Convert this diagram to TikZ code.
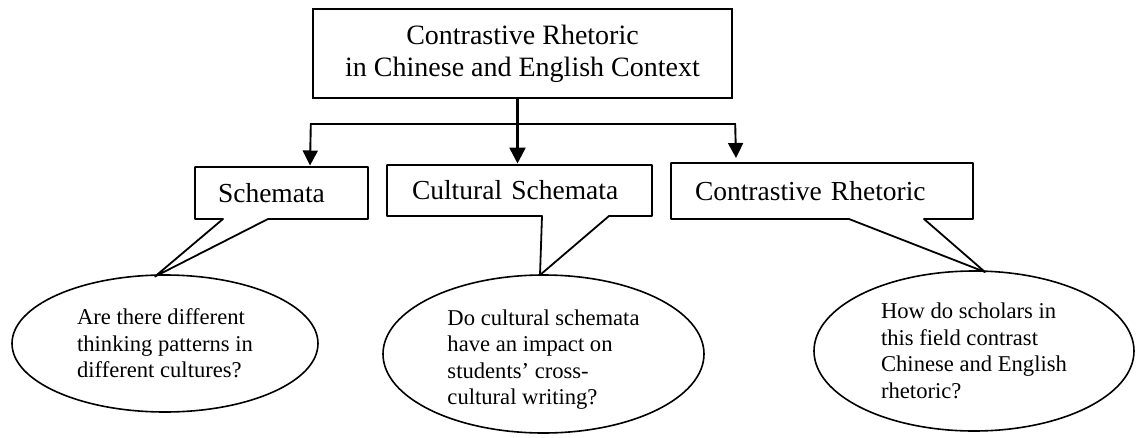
\documentclass[tikz,border=0pt]{standalone}
\usepackage{fontspec}
\setmainfont{Liberation Serif}
\usetikzlibrary{arrows.meta,shapes.geometric}

\begin{document}
\begin{tikzpicture}[x=1pt,y=-1pt,
  every node/.style={inner sep=0pt, outer sep=0pt},
  topbox/.style={draw, line width=2.2pt, minimum width=419pt, minimum height=89pt,
    align=center, font=\fontsize{28}{32}\selectfont},
  callbox/.style={minimum height=#1, align=left, font=\fontsize{27.5}{32}\selectfont},
  callline/.style={draw, line width=1.8pt, line join=round},
  question/.style={ellipse, draw, line width=1.6pt, align=left,
    font=\fontsize{22.6}{26.5}\selectfont},
  flow/.style={line width=1.9pt, -{Triangle[width=15pt,length=15pt]}},
]
\useasboundingbox (0,0) rectangle (1136,437);

% main topic
\node[topbox] (top) at (522.5,53.5) {Contrastive Rhetoric\\in Chinese and English Context};

% the three sub-topics (outlines drawn below with their tails)
\node[callbox=52pt, text width=127pt, inner xsep=23pt] (schem) at (281.5,193) {Schemata};
\node[callbox=51pt, text width=215pt, inner xsep=25pt] (cult) at (519.5,190.5) {Cultural Schemata};
\node[callbox=56pt, text width=254pt, inner xsep=24pt] (cr) at (822,191) {Contrastive Rhetoric};

% research questions
\node[question, minimum width=306pt, minimum height=137pt] (q1) at (165,343.5)
  {Are there different\\thinking patterns in\\different cultures?};
\node[question, minimum width=321pt, minimum height=158pt] (q2) at (543.5,354)
  {\rule{0pt}{27pt}Do cultural schemata\\have an impact on\\students’ cross-\\cultural writing?};
\node[question, minimum width=320pt, minimum height=160pt] (q3) at (974,351)
  {How do scholars in\\this field contrast\\Chinese and English\\rhetoric?};

% tail tips resting on the ellipses
\coordinate (t1) at ([xshift=-10pt,yshift=-1.5pt]q1.north);
\coordinate (t2) at ([xshift=-3.5pt]q2.north);
\coordinate (t3) at ([xshift=11pt,yshift=-1pt]q3.north);

% callout outlines
\draw[callline] ([xshift=28pt]schem.south west) -- (schem.south west) -- (schem.north west)
  -- (schem.north east) -- (schem.south east) -- ([xshift=73pt]schem.south west)
  -- (t1) -- cycle;
\draw[callline] ([xshift=155pt]cult.south west) -- (cult.south west) -- (cult.north west)
  -- (cult.north east) -- (cult.south east) -- ([xshift=222pt]cult.south west)
  -- (t2) -- cycle;
\draw[callline] ([xshift=178pt]cr.south west) -- (cr.south west) -- (cr.north west)
  -- (cr.north east) -- (cr.south east) -- ([xshift=253pt]cr.south west)
  -- (t3) -- cycle;

% branching connectors
\coordinate (brL) at (310,124);
\coordinate (brR) at (736,124);
\draw[line width=1.6pt] (brL) -- (brR);
\draw[flow, line width=2.6pt, -{Triangle[width=16pt,length=16pt]}]
  ([xshift=-2pt]cult.north |- top.south) -- ([xshift=-2pt,yshift=1.5pt]cult.north);
\draw[flow] ([xshift=0.8pt]brL) -- ([yshift=1.5pt]brL |- schem.north);
\draw[flow] ([xshift=-0.8pt]brR) -- ([yshift=5pt]brR |- cr.north);
\end{tikzpicture}
\end{document}
